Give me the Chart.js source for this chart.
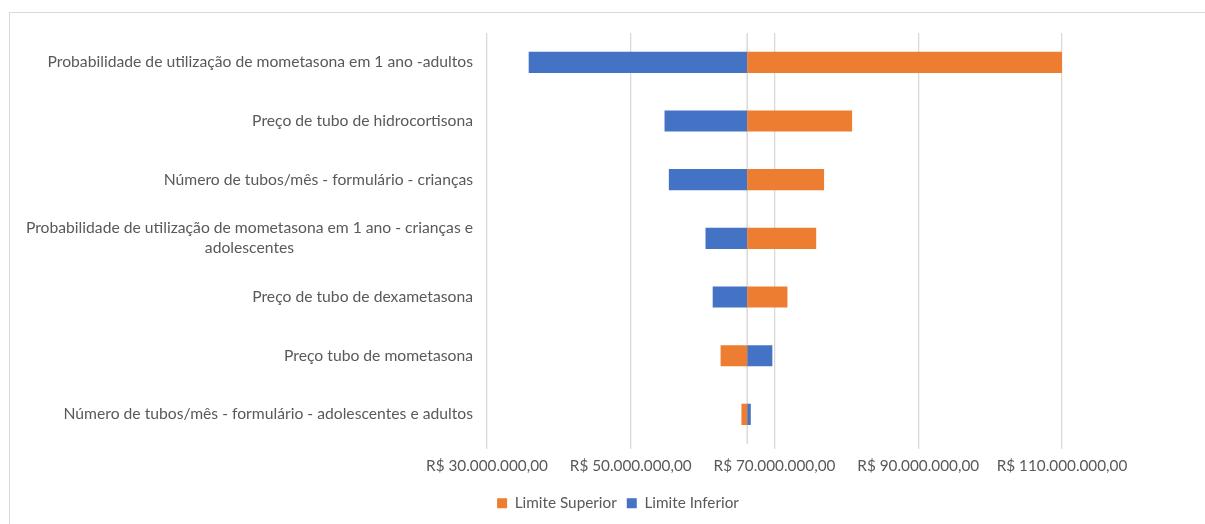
<!DOCTYPE html>
<html>
<head>
<meta charset="utf-8">
<script src="https://cdn.jsdelivr.net/npm/chart.js@4"></script>
<style>
  html, body { margin: 0; padding: 0; background: #fff; }
  #frame { position: absolute; left: 9px; top: 12px; width: 1200px; height: 520px; border: 1px solid #d9d9d9; box-sizing: border-box; }
  #wrap { position: absolute; left: 0; top: 0; width: 1205px; height: 524px; }
</style>
</head>
<body>
<div id="frame"></div>
<div id="wrap"><canvas id="tornado"></canvas></div>
<script>
// Categorias (de cima para baixo)
const categorias = [
  "Probabilidade de utilização de mometasona em 1 ano -adultos",
  "Preço de tubo de hidrocortisona",
  "Número de tubos/mês - formulário - crianças",
  ["Probabilidade de utilização de mometasona em 1 ano - crianças e", "adolescentes"],
  "Preço de tubo de dexametasona",
  "Preço tubo de mometasona",
  "Número de tubos/mês - formulário - adolescentes e adultos"
];

// Valor base (R$)
const valorBase = 66200000;

// Resultados para cada limite (R$)
const limiteSuperior = [110000000, 80800000, 76900000, 75800000, 71800000, 62500000, 65400000];
const limiteInferior = [35800000, 54700000, 55300000, 60400000, 61400000, 69700000, 66700000];

// Eixo X
const eixoMin = 30000000;
const eixoMax = 110000000;
const eixoPasso = 20000000;

const corTexto = "#595959";
const corGrade = "#d9d9d9";
const fonte = "Lato";

function formatarReal(v) {
  const inteiro = Math.round(v).toString().replace(/\B(?=(\d{3})+(?!\d))/g, ".");
  return "R$ " + inteiro + ",00";
}

// linha do eixo vertical no valor base + rótulos das categorias
const tornadoPlugin = {
  id: "tornadoPlugin",
  beforeDatasetsDraw(chart) {
    const { ctx, chartArea, scales } = chart;
    const x = scales.x.getPixelForValue(valorBase);
    ctx.save();
    ctx.strokeStyle = corGrade;
    ctx.lineWidth = 1.5;
    ctx.beginPath();
    ctx.moveTo(x, chartArea.top);
    ctx.lineTo(x, chartArea.bottom);
    ctx.stroke();
    ctx.restore();
  },
  afterDraw(chart) {
    const { ctx, scales } = chart;
    const right = scales.y.right - 14;
    ctx.save();
    ctx.font = "15.7px " + fonte;
    ctx.fillStyle = corTexto;
    ctx.textBaseline = "middle";
    ctx.textAlign = "center";
    categorias.forEach((cat, i) => {
      const linhas = Array.isArray(cat) ? cat : [cat];
      const larg = Math.max(...linhas.map(l => ctx.measureText(l).width));
      const cx = right - larg / 2;
      const y = scales.y.getPixelForTick(i);
      const alt = 20;
      const y0 = y - (linhas.length - 1) * alt / 2;
      linhas.forEach((l, j) => ctx.fillText(l, cx, y0 + j * alt));
    });
    ctx.restore();
  }
};

Chart.defaults.font.family = fonte;
Chart.defaults.font.size = 15.3;
Chart.defaults.color = corTexto;

const ctx = document.getElementById("tornado").getContext("2d");
new Chart(ctx, {
  type: "bar",
  data: {
    labels: categorias,
    datasets: [
      {
        label: "Limite Superior",
        data: limiteSuperior.map(v => [valorBase, v]),
        backgroundColor: "#ed7d31",
        grouped: false,
        categoryPercentage: 1,
        barPercentage: 0.36
      },
      {
        label: "Limite Inferior",
        data: limiteInferior.map(v => [valorBase, v]),
        backgroundColor: "#4472c4",
        grouped: false,
        categoryPercentage: 1,
        barPercentage: 0.36
      }
    ]
  },
  options: {
    indexAxis: "y",
    responsive: true,
    maintainAspectRatio: false,
    animation: false,
    layout: { padding: { top: 33, right: 143, bottom: 3, left: 174 } },
    plugins: {
      legend: {
        position: "bottom",
        labels: { boxWidth: 10, boxHeight: 10, padding: 10, color: corTexto, font: { size: 15.3 } }
      },
      tooltip: { enabled: false }
    },
    scales: {
      x: {
        min: eixoMin,
        max: eixoMax,
        afterFit(scale) { scale.height = 42; },
        grid: { color: corGrade, lineWidth: 1.3, tickLength: 5, drawTicks: true },
        border: { display: false },
        ticks: {
          stepSize: eixoPasso,
          padding: 8,
          color: corTexto,
          maxRotation: 0,
          callback: v => formatarReal(v)
        }
      },
      y: {
        afterFit(scale) { scale.width = 313; },
        grid: { display: false },
        border: { display: false },
        ticks: { display: false }
      }
    }
  },
  plugins: [tornadoPlugin]
});
</script>
</body>
</html>
